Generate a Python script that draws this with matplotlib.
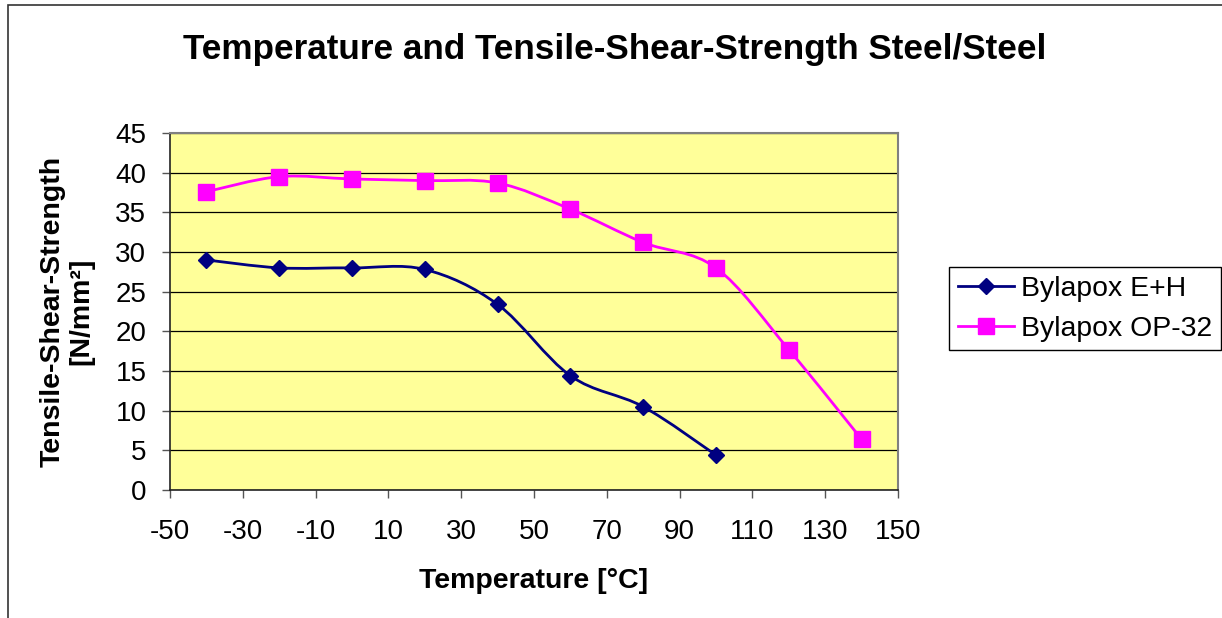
import matplotlib
matplotlib.use("Agg")
import matplotlib.pyplot as plt
from matplotlib.path import Path
from matplotlib.patches import PathPatch, Rectangle
from matplotlib.lines import Line2D

plt.rcParams['font.family'] = ['Liberation Sans', 'DejaVu Sans']
plt.rcParams['axes.unicode_minus'] = False

# Data
temp_eh = [-40, -20, 0, 20, 40, 60, 80, 100]
strength_eh = [29.0, 28.0, 28.0, 27.8, 23.4, 14.4, 10.5, 4.4]

temp_op = [-40, -20, 0, 20, 40, 60, 80, 100, 120, 140]
strength_op = [37.6, 39.5, 39.2, 39.0, 38.7, 35.4, 31.2, 28.0, 17.7, 6.4]

x_ticks = list(range(-50, 151, 20))
y_ticks = list(range(0, 46, 5))

W, H = 1222, 618


def smooth_path(xs, ys):
    # Excel style smoothed line: cubic bezier through every point
    pts = list(zip(xs, ys))
    verts = [pts[0]]
    codes = [Path.MOVETO]
    n = len(pts)
    for i in range(n - 1):
        p0 = pts[max(i - 1, 0)]
        p1 = pts[i]
        p2 = pts[i + 1]
        p3 = pts[min(i + 2, n - 1)]
        c1 = (p1[0] + (p2[0] - p0[0]) / 6, p1[1] + (p2[1] - p0[1]) / 6)
        c2 = (p2[0] - (p3[0] - p1[0]) / 6, p2[1] - (p3[1] - p1[1]) / 6)
        verts += [c1, c2, p2]
        codes += [Path.CURVE4] * 3
    return Path(verts, codes)


fig = plt.figure(figsize=(W / 100, H / 100), dpi=100)

# outer chart border (runs off the right and bottom of the picture)
fig.patches.append(Rectangle((8 / W, -0.1), 1.2, 1.1 - 5 / H, transform=fig.transFigure,
                             fill=False, edgecolor='#333333', linewidth=1.2))

ax = fig.add_axes([170 / W, 1 - 490 / H, (898 - 170) / W, (490 - 133) / H])
ax.set_facecolor('#FFFF99')
ax.set_xlim(-50, 150)
ax.set_ylim(0, 45)
ax.set_xticks(x_ticks)
ax.set_yticks(y_ticks)
ax.tick_params(direction='out', length=6, width=1, color='#555555', labelsize=20)
ax.tick_params(axis='x', pad=15)
ax.tick_params(axis='y', pad=11)
ax.yaxis.grid(True, color='black', linewidth=0.9)
ax.set_axisbelow(True)
for side in ['top', 'right']:
    ax.spines[side].set_color('#808080')
    ax.spines[side].set_linewidth(1.5)
for side in ['left', 'bottom']:
    ax.spines[side].set_color('#222222')
    ax.spines[side].set_linewidth(1.2)

series = [
    (temp_eh, strength_eh, '#000080', 'D', 8.5, 'Bylapox E+H'),
    (temp_op, strength_op, '#FF00FF', 's', 11, 'Bylapox OP-32'),
]
handles = []
for xs, ys, col, mk, ms, lab in series:
    ax.add_patch(PathPatch(smooth_path(xs, ys), fill=False, edgecolor=col, linewidth=2, zorder=3))
    ax.plot(xs, ys, linestyle='none', marker=mk, markersize=ms, color=col,
            markeredgecolor=col, zorder=4, clip_on=False)
    handles.append(Line2D([], [], color=col, marker=mk, markersize=ms, linewidth=2, label=lab))

fig.text(534 / W, 1 - 581 / H, 'Temperature [°C]', ha='center', va='center',
         fontsize=20.5, fontweight='bold')
fig.text(67 / W, 1 - 311 / H, 'Tensile-Shear-Strength\n[N/mm²]', ha='center', va='center',
         rotation=90, fontsize=20.5, fontweight='bold', linespacing=1.1, multialignment='center')

fig.text(615 / W, 1 - 49 / H, 'Temperature and Tensile-Shear-Strength Steel/Steel',
         ha='center', va='center', fontsize=25.3, fontweight='bold')

leg = fig.legend(handles=handles, loc='upper left', bbox_to_anchor=(949 / W, 1 - 267 / H),
                 fontsize=20.4, frameon=True, fancybox=False, framealpha=1, edgecolor='black',
                 borderaxespad=0, handlelength=2.0, handletextpad=0.25, labelspacing=0.5,
                 borderpad=0.3)
leg.get_frame().set_linewidth(1)

fig.savefig('out.png', dpi=100)
